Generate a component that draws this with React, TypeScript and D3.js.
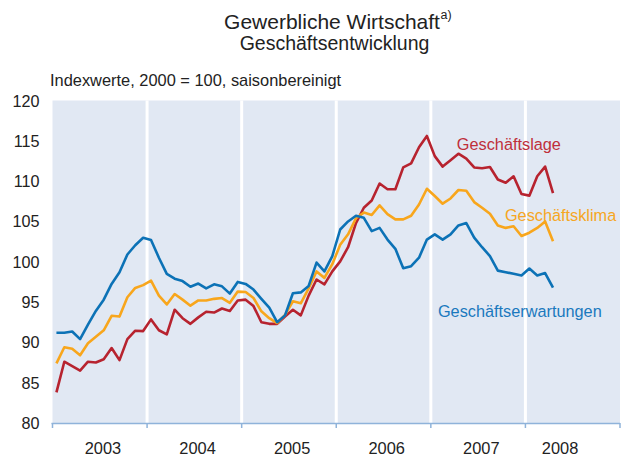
import React from "react";
import * as d3 from "d3";

// monthly values, Jan 2003 - Apr 2008 (Index 2000 = 100)
const geschaeftslage = [
  83.8, 87.6, 87.05, 86.5, 87.6, 87.5, 87.9, 89.3, 87.8, 90.4, 91.45, 91.4,
  92.85, 91.5, 91.0, 94.05, 93.0, 92.3, 93.1, 93.8, 93.7, 94.2, 93.9, 95.2,
  95.3, 94.5, 92.5, 92.3, 92.3, 93.2, 94.05, 93.35, 95.8, 97.8, 97.2, 98.8,
  100.05, 101.8, 104.8, 106.7, 107.6, 109.7, 109.0, 109.0, 111.7, 112.2, 114.2, 115.6,
  113.1, 111.8, 112.6, 113.4, 112.8, 111.7, 111.6, 111.75, 110.2, 109.8, 110.6, 108.4,
  108.2, 110.6, 111.8, 108.5,
];

const geschaeftsklima = [
  87.4, 89.4, 89.2, 88.4, 89.9, 90.7, 91.5, 93.3, 93.2, 95.6, 96.75, 97.1,
  97.65, 95.8, 94.7, 96.0, 95.3, 94.55, 95.2, 95.2, 95.4, 95.5, 94.9, 96.3,
  96.25, 95.5, 93.85, 93.0, 92.4, 93.4, 95.1, 94.85, 96.7, 98.8, 98.0, 99.7,
  102.1, 103.4, 105.4, 106.1, 105.8, 107.0, 105.9, 105.25, 105.25, 105.7, 107.1, 109.05,
  108.15, 107.2, 107.85, 108.9, 108.8, 107.4, 106.7, 105.95, 104.5, 104.2, 104.4, 103.2,
  103.6, 104.2, 105.0, 102.55,
];

const geschaeftserwartungen = [
  91.2, 91.2, 91.35, 90.4, 92.2, 93.9, 95.3, 97.25, 98.7, 100.9, 102.05, 102.97,
  102.7, 100.5, 98.5, 97.9, 97.6, 96.9, 97.3, 96.7, 97.2, 96.95, 96.05, 97.5,
  97.25, 96.55, 95.4, 94.3, 92.5, 93.35, 96.1, 96.2, 97.0, 99.9, 98.8, 100.7,
  104.0, 105.0, 105.7, 105.45, 103.8, 104.2, 102.75, 101.6, 99.2, 99.45, 100.5, 102.75,
  103.4, 102.75, 103.4, 104.5, 104.8, 103.0, 101.8, 100.7, 98.9, 98.7, 98.5, 98.3,
  99.15, 98.3, 98.6, 96.8,
];

const years = ["2003", "2004", "2005", "2006", "2007", "2008"];
// label centre of each year, in months from Jan 2003
const yearLabelAt = [6.4, 18.4, 30.4, 42.4, 54.4, 64.4];
const yTicks = [80, 85, 90, 95, 100, 105, 110, 115, 120];

const series = [
  { name: "Geschäftslage", values: geschaeftslage, color: "#b7232f", text: "#bf2f3a", at: [51.3, 113.8] },
  { name: "Geschäftsklima", values: geschaeftsklima, color: "#f8a61c", text: "#f6a623", at: [57.4, 105.0] },
  { name: "Geschäftserwartungen", values: geschaeftserwartungen, color: "#0c72b6", text: "#1a79be", at: [48.9, 93.1] },
];

export default function App() {
  const W = 623;
  const H = 460;
  const font = "'Liberation Sans', Arial, sans-serif";

  const x = d3.scaleLinear().domain([0, 72]).range([52.5, 620]);
  const y = d3.scaleLinear().domain([80, 120]).range([423, 100.5]);

  const line = d3
    .line<number>()
    .x((_, i) => x(i + 0.5))
    .y((d) => y(d));

  const boundaries = d3.range(0, 73, 12);

  return (
    <svg
      width={W}
      height={H}
      style={{ position: "absolute", left: 0, top: 0, display: "block" }}
      fontFamily={font}
    >
      <rect width={W} height={H} fill="#fff" />

      {/* title */}
      <text x={332} y={29} fontSize={21} textAnchor="middle" fill="#222">
        Gewerbliche Wirtschaft
      </text>
      <text x={440.5} y={19} fontSize={12.5} fill="#222">
        a)
      </text>
      <text x={334.5} y={50} fontSize={19.5} textAnchor="middle" fill="#222">
        Geschäftsentwicklung
      </text>
      <text x={50} y={86} fontSize={16.4} fill="#222">
        Indexwerte, 2000 = 100, saisonbereinigt
      </text>

      {/* plot background */}
      <rect
        x={x(0)}
        y={y(120)}
        width={x(72) - x(0)}
        height={y(80) - y(120)}
        fill="#e1e8f3"
      />
      {boundaries.slice(1, -1).map((m) => (
        <line
          key={m}
          x1={x(m)}
          x2={x(m)}
          y1={y(120)}
          y2={y(80)}
          stroke="#fff"
          strokeWidth={3}
        />
      ))}

      {/* x axis */}
      <line x1={x(0) - 1} x2={x(72)} y1={y(80) + 0.5} y2={y(80) + 0.5} stroke="#8fb3da" strokeWidth={1.5} />
      {boundaries.map((m) => (
        <line
          key={"t" + m}
          x1={x(m)}
          x2={x(m)}
          y1={y(80)}
          y2={y(80) + 5}
          stroke="#8fb3da"
          strokeWidth={1.5}
        />
      ))}
      {years.map((yr, i) => (
        <text
          key={yr}
          x={x(yearLabelAt[i])}
          y={454}
          fontSize={16.4}
          textAnchor="middle"
          fill="#222"
        >
          {yr}
        </text>
      ))}

      {/* y labels */}
      {yTicks.map((t) => (
        <text key={t} x={39.5} y={y(t) + 6} fontSize={16.2} textAnchor="end" fill="#222">
          {t}
        </text>
      ))}

      {/* lines */}
      {series.map((s) => (
        <path
          key={s.name}
          d={line(s.values) || ""}
          fill="none"
          stroke={s.color}
          strokeWidth={2.6}
          strokeLinejoin="round"
        />
      ))}

      {/* series labels */}
      {series.map((s) => (
        <text key={"l" + s.name} x={x(s.at[0])} y={y(s.at[1])} fontSize={16.3} fill={s.text}>
          {s.name}
        </text>
      ))}
    </svg>
  );
}
